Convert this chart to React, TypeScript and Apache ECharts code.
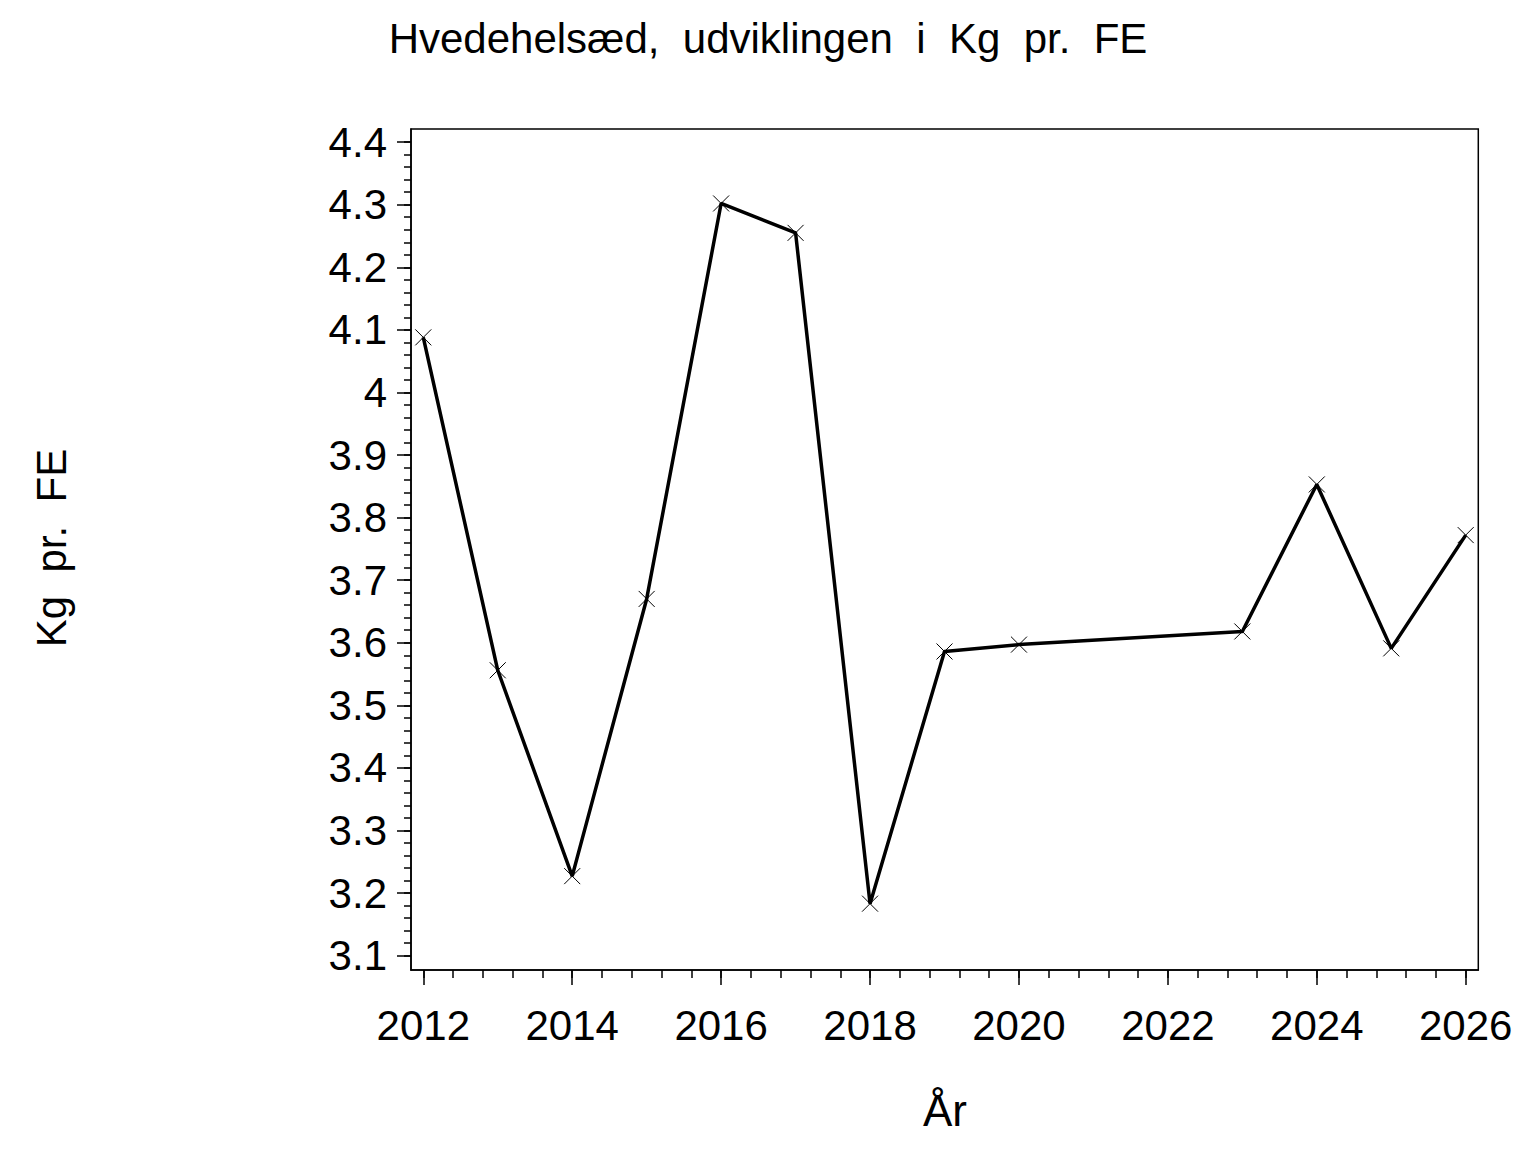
import React, { useEffect, useRef } from "react";
import * as echarts from "echarts";

const years = [2012, 2013, 2014, 2015, 2016, 2017, 2018, 2019, 2020, 2023, 2024, 2025, 2026];
const kgPerFE = [4.088, 3.556, 3.227, 3.67, 4.302, 4.255, 3.183, 3.586, 3.597, 3.618, 3.853, 3.591, 3.772];
const xTickLabels = [2012, 2014, 2016, 2018, 2020, 2022, 2024, 2026];
const yTickLabels = [3.1, 3.2, 3.3, 3.4, 3.5, 3.6, 3.7, 3.8, 3.9, 4.0, 4.1, 4.2, 4.3, 4.4];
const titleText = "Hvedehelsæd,  udviklingen  i  Kg  pr.  FE";
const yName = "Kg  pr.  FE";
const xName = "År";

const FONT = '"Liberation Sans", Arial, Helvetica, sans-serif';

function range(a: number, b: number, step: number, dp: number) {
  const out: number[] = [];
  const n = Math.round((b - a) / step);
  for (let i = 0; i <= n; i++) out.push(Number((a + i * step).toFixed(dp)));
  return out;
}

export default function App() {
  const ref = useRef<HTMLDivElement>(null);
  useEffect(() => {
    document.body.style.margin = "0";
    const chart = echarts.init(ref.current!, undefined, { renderer: "svg" });
    const xMinor = range(2012, 2026, 0.4, 1);
    const yMinor = range(3.1, 4.4, 0.02, 2);
    const xMin = 2011.835;
    const xMax = 2026.169;
    const yMin = 3.077;
    const yMax = 4.421;
    const black = "#000";
    chart.setOption({
      animation: false,
      backgroundColor: "#fff",
      title: {
        text: titleText,
        left: "center",
        top: 12,
        textStyle: { fontFamily: FONT, fontSize: 42, fontWeight: "normal", color: black },
      },
      grid: {
        left: 411,
        right: 57.7,
        top: 129,
        bottom: 182,
        show: true,
        borderColor: black,
        borderWidth: 1.5,
        backgroundColor: "transparent",
      },
      xAxis: [
        {
          type: "value",
          min: xMin,
          max: xMax,
          position: "bottom",
          axisLine: { show: true, lineStyle: { color: black, width: 1.5 } },
          axisTick: { show: true, customValues: xTickLabels, length: 15, lineStyle: { color: black, width: 1.5 } },
          axisLabel: {
            show: true,
            customValues: xTickLabels,
            formatter: (v: number) => String(Math.round(v)),
            fontFamily: FONT,
            fontSize: 42,
            color: black,
            margin: 34,
          },
          splitLine: { show: false },
        },
        {
          type: "value",
          min: xMin,
          max: xMax,
          position: "bottom",
          axisLine: { show: false },
          axisTick: { show: true, customValues: xMinor, length: 8, lineStyle: { color: black, width: 1.5 } },
          axisLabel: { show: false },
          splitLine: { show: false },
        },
      ],
      yAxis: [
        {
          type: "value",
          min: yMin,
          max: yMax,
          position: "left",
          axisLine: { show: true, lineStyle: { color: black, width: 1.5 } },
          axisTick: { show: true, customValues: yTickLabels, length: 14, lineStyle: { color: black, width: 1.5 } },
          axisLabel: {
            show: true,
            customValues: yTickLabels,
            formatter: (v: number) => String(Number(v.toFixed(1))),
            fontFamily: FONT,
            fontSize: 42,
            color: black,
            margin: 24,
          },
          splitLine: { show: false },
        },
        {
          type: "value",
          min: yMin,
          max: yMax,
          position: "left",
          axisLine: { show: false },
          axisTick: { show: true, customValues: yMinor, length: 7, lineStyle: { color: black, width: 1.5 } },
          axisLabel: { show: false },
          splitLine: { show: false },
        },
      ],
      graphic: [
        {
          type: "text",
          x: 51,
          y: 548,
          rotation: Math.PI / 2,
          style: {
            text: yName,
            fontFamily: FONT,
            fontSize: 42,
            fill: black,
            align: "center",
            verticalAlign: "middle",
          },
        },
        {
          type: "text",
          x: 945,
          y: 1110,
          style: {
            text: xName,
            fontFamily: FONT,
            fontSize: 44,
            fill: black,
            align: "center",
            verticalAlign: "middle",
          },
        },
      ],
      series: [
        {
          type: "line",
          xAxisIndex: 0,
          yAxisIndex: 0,
          data: years.map((y, i) => [y, kgPerFE[i]]),
          symbol: "path://M0,0L10,10M10,0L0,10",
          symbolSize: 16,
          showAllSymbol: true,
          lineStyle: { color: black, width: 3.5 },
          itemStyle: { color: "none", borderColor: black, borderWidth: 1 },
          emphasis: { disabled: true },
          z: 3,
        },
      ],
    });
    return () => chart.dispose();
  }, []);
  return <div ref={ref} style={{ width: 1536, height: 1152 }} />;
}
